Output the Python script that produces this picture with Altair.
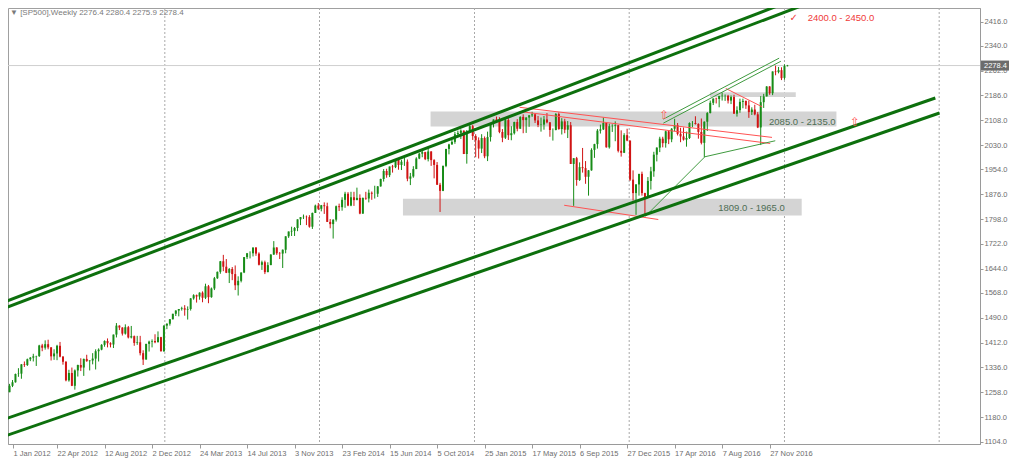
import json
import altair as alt
import pandas as pd

# ---------------- weekly SP500 bars (week index 0 = week of 1 Jan 2012) ----------------
WEEK0 = -1
OPEN = [1265,
 1258,1278,1289,1315,1316,1345,1343,1361,1366,1370,
 1371,1404,1397,1408,1398,1370,1379,1403,1369,1353,
 1295,1318,1278,1326,1343,1335,1362,1355,1357,1363,
 1386,1391,1406,1418,1411,1407,1438,1466,1460,1441,
 1461,1429,1433,1412,1414,1380,1360,1409,1416,1418,
 1414,1430,1386,1466,1472,1486,1503,1513,1518,1520,
 1516,1518,1551,1561,1557,1569,1553,1589,1555,1582,
 1614,1634,1667,1650,1631,1643,1627,1592,1606,1632,
 1680,1692,1692,1710,1691,1656,1664,1633,1655,1688,
 1710,1692,1691,1703,1745,1760,1762,1771,1798,1805,
 1806,1805,1775,1818,1841,1831,1842,1839,1790,1783,
 1797,1839,1836,1859,1878,1841,1867,1858,1865,1816,
 1865,1863,1881,1878,1878,1901,1924,1949,1936,1963,
 1961,1985,1968,1978,1978,1925,1932,1955,1988,2003,
 2008,1986,2010,1983,1968,1906,1887,1965,2018,2032,
 2040,2064,2068,2075,2002,2071,2089,2058,2045,2019,
 2052,1995,2055,2097,2110,2105,2071,2053,2108,2061,
 2067,2102,2081,2118,2108,2116,2123,2126,2107,2093,
 2094,2110,2101,2077,2077,2127,2080,2104,2078,2092,
 1971,1989,1921,1961,1958,1931,1951,2015,2033,2075,
 2079,2099,2023,2089,2090,2092,2012,2006,2061,2044,
 1922,1880,1907,1940,1880,1865,1918,1948,2000,2022,
 2050,2036,2073,2048,2081,2092,2065,2057,2047,2052,
 2099,2099,2096,2071,2037,2103,2130,2162,2175,2174,
 2183,2184,2184,2169,2180,2128,2139,2165,2168,2154,
 2133,2141,2126,2085,2164,2182,2213,2192,2260,2258,
 2264,2240,2276.4]
HIGH = [1269,
 1284,1296,1316,1333,1346,1354,1363,1368,1378,1372,
 1406,1409,1420,1422,1399,1392,1406,1415,1371,1355,
 1328,1335,1329,1344,1364,1363,1375,1358,1380,1392,
 1395,1408,1420,1426,1414,1438,1474,1467,1461,1470,
 1465,1465,1435,1434,1434,1389,1409,1419,1423,1439,
 1448,1431,1467,1473,1486,1503,1514,1518,1525,1530,
 1526,1552,1564,1563,1570,1573,1597,1593,1585,1618,
 1635,1668,1687,1674,1646,1649,1654,1620,1632,1680,
 1693,1698,1710,1711,1695,1669,1669,1664,1689,1730,
 1711,1696,1704,1745,1760,1775,1774,1798,1805,1813,
 1810,1811,1819,1844,1849,1843,1851,1850,1799,1798,
 1841,1847,1867,1884,1883,1884,1884,1897,1876,1866,
 1884,1891,1885,1903,1902,1925,1955,1956,1963,1968,
 1985,1986,1984,1991,1985,1943,1964,1992,2006,2012,
 2009,2020,2011,1986,1977,1912,1966,2018,2034,2046,
 2071,2075,2079,2076,2077,2094,2093,2064,2054,2064,
 2057,2072,2097,2110,2119,2117,2080,2114,2114,2089,
 2103,2111,2120,2126,2117,2124,2134,2127,2121,2116,
 2121,2130,2102,2082,2130,2132,2114,2112,2105,2102,
 1989,1993,1976,2021,1980,1952,2020,2034,2080,2094,
 2116,2100,2097,2095,2104,2093,2076,2067,2081,2044,
 1951,1908,1940,1947,1881,1930,1962,2009,2023,2056,
 2056,2075,2075,2083,2112,2099,2084,2085,2072,2101,
 2105,2120,2098,2113,2104,2133,2169,2176,2178,2184,
 2194,2188,2187,2185,2187,2151,2175,2175,2169,2169,
 2148,2156,2133,2183,2190,2214,2214,2260,2278,2274,
 2273,2282,2280.4]
LOW = [1249,
 1258,1274,1288,1306,1300,1337,1340,1355,1354,1340,
 1368,1386,1391,1392,1357,1359,1358,1367,1344,1292,
 1291,1277,1266,1307,1324,1309,1353,1326,1345,1329,
 1354,1389,1400,1398,1398,1396,1429,1452,1435,1438,
 1426,1426,1403,1406,1373,1343,1360,1385,1398,1411,
 1414,1385,1384,1455,1466,1485,1496,1495,1513,1497,
 1485,1513,1547,1538,1547,1539,1549,1536,1553,1577,
 1612,1628,1636,1630,1599,1608,1577,1560,1601,1630,
 1674,1676,1682,1684,1654,1640,1627,1633,1655,1687,
 1687,1674,1646,1692,1740,1746,1746,1761,1780,1799,
 1780,1772,1768,1818,1827,1823,1815,1790,1770,1738,
 1791,1824,1825,1834,1839,1839,1840,1858,1814,1815,
 1859,1851,1859,1863,1868,1900,1916,1928,1930,1944,
 1958,1953,1952,1965,1917,1905,1928,1955,1986,1992,
 1983,1979,1965,1926,1906,1821,1886,1961,2001,2031,
 2034,2062,2049,2002,1972,2068,2046,1992,1988,2005,
 1989,1980,2041,2085,2103,2067,2039,2049,2046,2045,
 2063,2073,2081,2067,2068,2087,2118,2099,2086,2072,
 2078,2098,2056,2044,2076,2078,2063,2067,2052,1971,
 1840,1903,1918,1944,1909,1872,1950,1990,2019,2066,
 2077,2022,2019,2071,2042,2007,1994,2005,2042,1918,
 1857,1812,1872,1872,1810,1865,1891,1931,1979,2008,
 2023,2022,2033,2039,2073,2060,2039,2044,2025,2049,
 2086,2094,2050,2032,1992,2074,2129,2155,2160,2148,
 2169,2168,2160,2158,2128,2119,2131,2145,2143,2115,
 2124,2123,2083,2030,2146,2182,2187,2186,2248,2254,
 2233,2234,2275.9]
CLOSE = [1258,
 1278,1289,1315,1316,1345,1343,1361,1366,1370,1371,
 1404,1397,1408,1398,1370,1379,1403,1369,1353,1295,
 1318,1278,1326,1343,1335,1362,1355,1357,1363,1386,
 1391,1406,1418,1411,1407,1438,1466,1460,1441,1461,
 1429,1433,1412,1414,1380,1360,1409,1416,1418,1414,
 1430,1386,1466,1472,1486,1503,1513,1518,1520,1516,
 1518,1551,1561,1557,1569,1553,1589,1555,1582,1614,
 1634,1667,1650,1631,1643,1627,1592,1606,1632,1680,
 1692,1692,1710,1691,1656,1664,1633,1655,1688,1710,
 1692,1691,1703,1745,1760,1762,1771,1798,1805,1806,
 1805,1775,1818,1841,1831,1842,1839,1790,1783,1797,
 1839,1836,1859,1878,1841,1867,1858,1865,1816,1865,
 1863,1881,1878,1878,1901,1924,1949,1936,1963,1961,
 1985,1968,1978,1978,1925,1932,1955,1988,2003,2008,
 1986,2010,1983,1968,1906,1887,1965,2018,2032,2040,
 2064,2068,2075,2002,2071,2089,2058,2045,2019,2052,
 1995,2055,2097,2110,2105,2071,2053,2108,2061,2067,
 2102,2081,2118,2108,2116,2123,2126,2107,2093,2094,
 2110,2101,2077,2077,2127,2080,2104,2078,2092,1971,
 1989,1921,1961,1958,1931,1951,2015,2033,2075,2079,
 2099,2023,2089,2090,2092,2012,2006,2061,2044,1922,
 1880,1907,1940,1880,1865,1918,1948,2000,2022,2050,
 2036,2073,2048,2081,2092,2065,2057,2047,2052,2099,
 2099,2096,2071,2037,2103,2130,2162,2175,2174,2183,
 2184,2184,2169,2180,2128,2139,2165,2168,2154,2133,
 2141,2126,2085,2164,2182,2213,2192,2260,2258,2264,
 2239,2277,2278.4]

CURRENT = 2278.4
HEADER = "\u25bc [SP500],Weekly  2276.4 2280.4 2275.9 2278.4"

# axis ticks
TICK_WEEKS = [0, 16, 32, 48, 64, 80, 96, 112, 128, 144, 160, 176, 192, 208, 224, 240, 256]
TICK_LABELS = ["1 Jan 2012", "22 Apr 2012", "12 Aug 2012", "2 Dec 2012", "24 Mar 2013",
               "14 Jul 2013", "3 Nov 2013", "23 Feb 2014", "15 Jun 2014", "5 Oct 2014",
               "25 Jan 2015", "17 May 2015", "6 Sep 2015", "27 Dec 2015", "17 Apr 2016",
               "7 Aug 2016", "27 Nov 2016"]
PRICE_TICKS = [2416, 2340, 2262, 2186, 2108, 2030, 1954, 1876, 1798, 1722, 1644,
               1568, 1490, 1412, 1336, 1258, 1180, 1104]
YEAR_WEEKS = [52.3, 104.4, 156.6, 208.7, 261.0, 313.1]

# support / resistance zones (week from, week to, price low, price high)
ZONE_W1 = [141.8, 132.5, 235.9]
ZONE_W2 = [278.5, 266.8, 264.8]
ZONE_LO = [2088, 1810, 2180]
ZONE_HI = [2135, 1862, 2195]
ZONE_TEXT = ["2085.0 - 2135.0", "1809.0 - 1965.0"]
ZONE_TEXT_W = [255.8, 238.7]
ZONE_TEXT_P = [2103.5, 1833.0]

# long channel lines (week1, price1, week2, price2)
CH_W1 = [-1.5, -1.5, -1.5, -1.5]
CH_P1 = [1540.7, 1521.0, 1174.3, 1121.2]
CH_W2 = [261.2, 269.2, 311.8, 313.2]
CH_P2 = [2473.8, 2473.8, 2177.0, 2130.2]

# thin red trend lines
RED_W1 = [171.8, 171.8, 186.8, 241.2]
RED_P1 = [2148.0, 2135.0, 1842.0, 2207.0]
RED_W2 = [256.8, 256.2, 218.5, 253.5]
RED_P2 = [2054.0, 2035.0, 1797.5, 2149.5]

# thin green trend lines
GRN_W1 = [220.2, 220.2, 214.2, 234.2]
GRN_P1 = [2111.0, 2098.5, 1808.0, 1993.5]
GRN_W2 = [259.2, 259.8, 234.2, 257.9]
GRN_P2 = [2301.5, 2292.0, 1993.5, 2043.5]

# arrows and target
ARROW_W = [220.5, 284.8]
ARROW_P = [2124.0, 2103.0]
TARGET_TEXT = "2400.0 - 2450.0"
TARGET_W = 268.8
CHECK_W = 264.1
TARGET_P = 2425.5

# ---------------- layout ----------------
W, H = 972, 436
X_MIN, X_MAX = 7 / 6, 7 / 6 + 324
Y_MIN, Y_MAX = 1096.2, 2458.2
FONT = "Liberation Sans"
GREEN, RED = "#178c17", "#d01414"

bars = pd.DataFrame({"w": [WEEK0 + i for i in range(len(OPEN))],
                     "o": OPEN, "h": HIGH, "l": LOW, "c": CLOSE})
bars["dir"] = ["up" if c >= o else "down" for o, c in zip(bars["o"], bars["c"])]

xs = alt.Scale(domain=[X_MIN, X_MAX], nice=False, zero=False)
ys = alt.Scale(domain=[Y_MIN, Y_MAX], nice=False, zero=False)

x_axis = alt.Axis(values=[max(v, X_MIN) for v in TICK_WEEKS],
                  labelExpr=json.dumps(TICK_LABELS) + "[round(datum.value/16)]",
                  labelAlign="left", labelBaseline="top", labelPadding=1, tickSize=4,
                  labelFontSize=7.5, labelFont=FONT, labelColor="#6e6e6e",
                  tickColor="#9a9a9a", domainColor="#9a9a9a", grid=False,
                  labelOverlap=False, labelFlush=False, labelBound=False, title=None)
y_axis = alt.Axis(orient="right", values=PRICE_TICKS, format=".1f", tickSize=3,
                  labelPadding=1, labelFontSize=7.5, labelFont=FONT, labelColor="#6e6e6e",
                  tickColor="#9a9a9a", domainColor="#9a9a9a", grid=False,
                  labelOverlap=False, labelFlush=False, labelBound=False, title=None)


def X(f):
    return alt.X(f, scale=xs, axis=x_axis)


def Y(f):
    return alt.Y(f, scale=ys, axis=y_axis)


grid = alt.Chart(pd.DataFrame({"w": YEAR_WEEKS})).mark_rule(
    color="#a9a9a9", strokeDash=[2, 2], strokeWidth=1).encode(x=X("w:Q"))

zones = alt.Chart(pd.DataFrame({"w1": ZONE_W1, "w2": ZONE_W2, "lo": ZONE_LO, "hi": ZONE_HI})
                  ).mark_rect(color="#d4d4d4", clip=True).encode(
    x=X("w1:Q"), x2="w2:Q", y=Y("lo:Q"), y2="hi:Q")

cur_line = alt.Chart(pd.DataFrame({"p": [CURRENT]})).mark_rule(
    color="#cfcfcf", strokeWidth=1).encode(y=Y("p:Q"))

color = alt.Color("dir:N", scale=alt.Scale(domain=["up", "down"], range=[GREEN, RED]), legend=None)

wicks = alt.Chart(bars).mark_rule(strokeWidth=1, clip=True).encode(
    x=X("w:Q"), y=Y("l:Q"), y2="h:Q", color=color)

bodies = alt.Chart(bars).mark_bar(size=2, clip=True).encode(
    x=X("w:Q"), y=Y("o:Q"), y2="c:Q", color=color)

red_lines = alt.Chart(pd.DataFrame({"w1": RED_W1, "p1": RED_P1, "w2": RED_W2, "p2": RED_P2})
                      ).mark_rule(color="#ff5252", strokeWidth=1, clip=True).encode(
    x=X("w1:Q"), y=Y("p1:Q"), x2="w2:Q", y2="p2:Q")

green_lines = alt.Chart(pd.DataFrame({"w1": GRN_W1, "p1": GRN_P1, "w2": GRN_W2, "p2": GRN_P2})
                        ).mark_rule(color="#3f9a3f", strokeWidth=1, clip=True).encode(
    x=X("w1:Q"), y=Y("p1:Q"), x2="w2:Q", y2="p2:Q")

channels = alt.Chart(pd.DataFrame({"w1": CH_W1, "p1": CH_P1, "w2": CH_W2, "p2": CH_P2})
                     ).mark_rule(color="#0d700d", strokeWidth=3, clip=True).encode(
    x=X("w1:Q"), y=Y("p1:Q"), x2="w2:Q", y2="p2:Q")

zone_text = alt.Chart(pd.DataFrame({"t": ZONE_TEXT, "w": ZONE_TEXT_W, "p": ZONE_TEXT_P})
                      ).mark_text(align="left", baseline="middle", font=FONT, fontSize=9.5,
                                  color="#4e6e55").encode(x=X("w:Q"), y=Y("p:Q"), text="t:N")

arrows = alt.Chart(pd.DataFrame({"w": ARROW_W, "p": ARROW_P})).mark_text(
    text="\u21e7", font="DejaVu Sans", fontSize=12, color="#ff5a5a",
    align="center", baseline="middle").encode(x=X("w:Q"), y=Y("p:Q"))

check = alt.Chart(pd.DataFrame({"w": [CHECK_W], "p": [TARGET_P]})).mark_text(
    text="\u2713", font="DejaVu Sans", fontSize=10, color="#ef3a3a",
    align="center", baseline="middle").encode(x=X("w:Q"), y=Y("p:Q"))

target = alt.Chart(pd.DataFrame({"w": [TARGET_W], "p": [TARGET_P], "t": [TARGET_TEXT]})).mark_text(
    font=FONT, fontSize=9.5, color="#ef3a3a", align="left", baseline="middle").encode(
    x=X("w:Q"), y=Y("p:Q"), text="t:N")

header = alt.Chart(pd.DataFrame({"t": [HEADER]})).mark_text(
    font=FONT, fontSize=8, color="#7a7a7a", align="left", baseline="top").encode(
    x=alt.value(2), y=alt.value(1), text="t:N")

box = alt.Chart(pd.DataFrame({"p": [CURRENT]})).mark_point(
    shape="M-1.4,-0.5H1.4V0.5H-1.4Z", size=400, filled=True, opacity=1,
    color="#6c6c6c", strokeWidth=0).encode(x=alt.value(W + 15), y=Y("p:Q"))

box_text = alt.Chart(pd.DataFrame({"p": [CURRENT], "t": [f"{CURRENT:.1f}"]})).mark_text(
    font=FONT, fontSize=7.5, color="white", align="left", baseline="middle").encode(
    x=alt.value(W + 4), y=Y("p:Q"), text="t:N")

chart = alt.layer(
    grid, zones, cur_line, wicks, bodies, red_lines, green_lines, channels,
    zone_text, arrows, check, target, header, box, box_text
).properties(
    width=W, height=H,
    padding={"left": 0, "top": 0, "right": 36, "bottom": 16},
    autosize=alt.AutoSizeParams(type="none"),
    background="white",
).configure_view(stroke="#a0a0a0", strokeWidth=1)

chart.save("out.html", embed_options={"renderer": "svg", "actions": False})
